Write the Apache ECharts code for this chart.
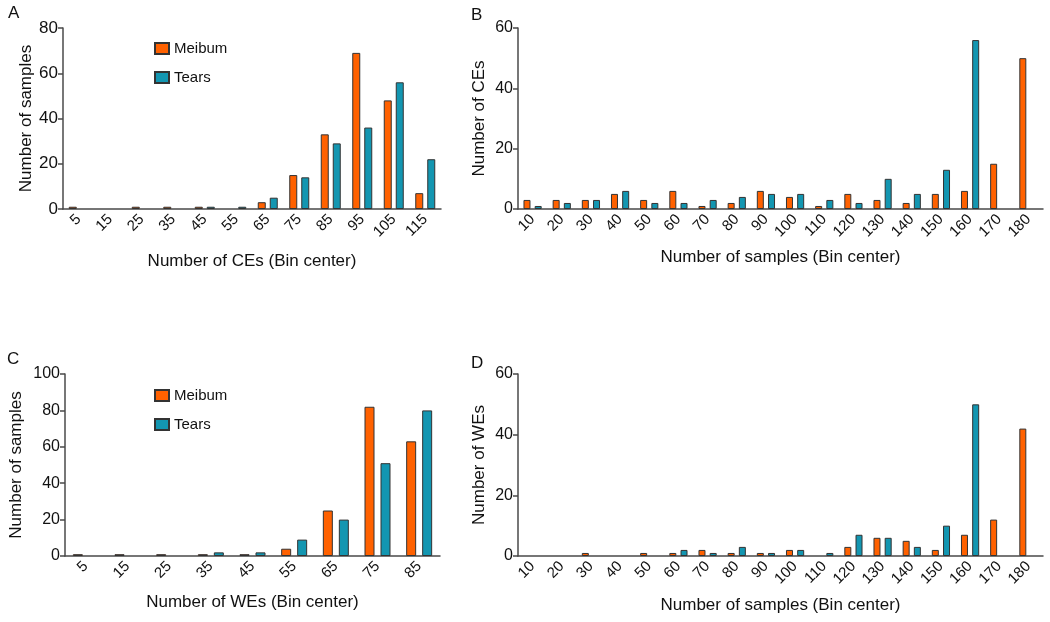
<!DOCTYPE html>
<html>
<head>
<meta charset="utf-8">
<script src="https://cdn.jsdelivr.net/npm/echarts@6/dist/echarts.min.js"></script>
<style>html,body{margin:0;padding:0;background:#fff;}#c{width:1050px;height:622px;}</style>
</head>
<body>
<div id="c"></div>
<script>
// Panel A: Number of CEs (bin center) vs number of samples
const catA = ['5','15','25','35','45','55','65','75','85','95','105','115'];
const meibumA = [1,0,1,1,1,0,3,15,33,69,48,7];
const tearsA  = [0,0,0,0,1,1,5,14,29,36,56,22];
// Panel B: Number of samples (bin center) vs number of CEs
const catB = ['10','20','30','40','50','60','70','80','90','100','110','120','130','140','150','160','170','180'];
const meibumB = [3,3,3,5,3,6,1,2,6,4,1,5,3,2,5,6,15,50];
const tearsB  = [1,2,3,6,2,2,3,4,5,5,3,2,10,5,13,56,0,0];
// Panel C: Number of WEs (bin center) vs number of samples
const catC = ['5','15','25','35','45','55','65','75','85'];
const meibumC = [1,1,1,1,1,4,25,82,63];
const tearsC  = [0,0,0,2,2,9,20,51,80];
// Panel D: Number of samples (bin center) vs number of WEs
const catD = ['10','20','30','40','50','60','70','80','90','100','110','120','130','140','150','160','170','180'];
const meibumD = [0,0,1,0,1,1,2,1,1,2,0,3,6,5,2,7,12,42];
const tearsD  = [0,0,0,0,0,2,1,3,1,2,1,7,6,3,10,50,0,0];

const ORANGE = '#FF6100';
const TEAL = '#1396B1';
const FONT = 'Arial, "Liberation Sans", sans-serif';
const AXC = '#4a4a4a';

const chart = echarts.init(document.getElementById('c'));

function xAx(idx, cats, name, gap) {
  return {
    type: 'category', gridIndex: idx, data: cats,
    name: name, nameLocation: 'middle', nameGap: gap,
    nameTextStyle: {fontFamily: FONT, fontSize: 17, color: '#111'},
    axisLine: {lineStyle: {color: AXC, width: 1.5}},
    axisTick: {alignWithLabel: true, length: 5, lineStyle: {color: AXC, width: 1.5}},
    axisLabel: {rotate: 45, fontFamily: FONT, fontSize: 15, color: '#111', margin: 8, interval: 0},
    splitLine: {show: false}
  };
}
function yAx(idx, max, name, gap, fs) {
  return {
    type: 'value', gridIndex: idx, min: 0, max: max, interval: 20,
    name: name, nameLocation: 'middle', nameGap: gap,
    nameTextStyle: {fontFamily: FONT, fontSize: 17, color: '#111'},
    axisLine: {show: true, lineStyle: {color: AXC, width: 1.5}},
    axisTick: {show: true, length: 5, lineStyle: {color: AXC, width: 1.5}},
    axisLabel: {fontFamily: FONT, fontSize: fs, color: '#111', margin: 5},
    splitLine: {show: false}
  };
}
function bar(name, data, idx, color, bw, gap) {
  return {
    type: 'bar', name: name, data: data.map(v => (v === 0 ? null : v)),
    xAxisIndex: idx, yAxisIndex: idx,
    barWidth: bw, barGap: gap,
    itemStyle: {color: color, borderColor: '#333', borderWidth: 1},
    emphasis: {disabled: true}, animation: false
  };
}
const legendBase = {
  orient: 'vertical', itemGap: 14, itemWidth: 14, itemHeight: 11, icon: 'rect',
  textStyle: {fontFamily: FONT, fontSize: 15, color: '#111'}, selectedMode: false
};

const option = {
  animation: false,
  grid: [
    {left: 63, right: 609, top: 28, bottom: 413},
    {left: 518, right: 7, top: 28, bottom: 413},
    {left: 65, right: 610, top: 374, bottom: 66},
    {left: 518, right: 7, top: 374, bottom: 66}
  ],
  xAxis: [
    xAx(0, catA, 'Number of CEs (Bin center)', 44),
    xAx(1, catB, 'Number of samples (Bin center)', 40),
    xAx(2, catC, 'Number of WEs (Bin center)', 38),
    xAx(3, catD, 'Number of samples (Bin center)', 41)
  ],
  yAxis: [
    yAx(0, 80, 'Number of samples', 28, 17),
    yAx(1, 60, 'Number of CEs', 30, 16),
    yAx(2, 100, 'Number of samples', 40, 16),
    yAx(3, 60, 'Number of WEs', 30, 16)
  ],
  legend: [
    Object.assign({data: ['Meibum','Tears'], left: 149, top: 36}, legendBase),
    Object.assign({data: ['Meibum','Tears'], left: 149, top: 383}, legendBase)
  ],
  graphic: [
    {type: 'text', left: 8, top: 5, style: {text: 'A', font: '17px ' + FONT, fill: '#111'}},
    {type: 'text', left: 471, top: 7, style: {text: 'B', font: '17px ' + FONT, fill: '#111'}},
    {type: 'text', left: 7, top: 351, style: {text: 'C', font: '17px ' + FONT, fill: '#111'}},
    {type: 'text', left: 471, top: 355, style: {text: 'D', font: '17px ' + FONT, fill: '#111'}}
  ],
  series: [
    bar('Meibum', meibumA, 0, ORANGE, 8, '50%'),
    bar('Tears', tearsA, 0, TEAL, 8, '50%'),
    bar('Meibum', meibumB, 1, ORANGE, 7, '60%'),
    bar('Tears', tearsB, 1, TEAL, 7, '60%'),
    bar('Meibum', meibumC, 2, ORANGE, 10, '60%'),
    bar('Tears', tearsC, 2, TEAL, 10, '60%'),
    bar('Meibum', meibumD, 3, ORANGE, 7, '60%'),
    bar('Tears', tearsD, 3, TEAL, 7, '60%')
  ]
};
chart.setOption(option);
</script>
</body>
</html>
